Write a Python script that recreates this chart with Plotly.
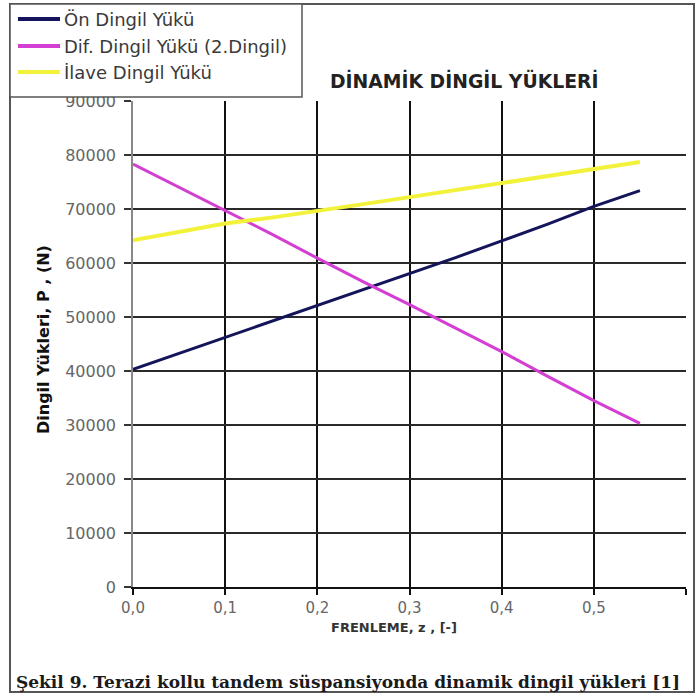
import plotly.graph_objects as go

# ---- data ----
frenleme = [0.00, 0.05, 0.10, 0.15, 0.20, 0.25, 0.30, 0.35, 0.40, 0.45, 0.50, 0.55]
on_dingil = [40300, 43250, 46200, 49150, 52100, 55050, 58000, 61000, 64100, 67200, 70500, 73400]
dif_dingil = [78300, 74000, 69800, 65400, 60900, 56500, 52300, 48000, 43600, 39000, 34500, 30300]
ilave_dingil = [64200, 65800, 67300, 68400, 69600, 70900, 72200, 73500, 74800, 76000, 77300, 78700]

series_names = ["Ön Dingil Yükü", "Dif. Dingil Yükü (2.Dingil)", "İlave Dingil Yükü"]
series_values = [on_dingil, dif_dingil, ilave_dingil]
series_colors = ["#14145a", "#d23fd2", "#f2f23a"]
series_widths = [3, 3, 4]

x_ticks = [0.0, 0.1, 0.2, 0.3, 0.4, 0.5, 0.6]
x_tick_labels = ["0,0", "0,1", "0,2", "0,3", "0,4", "0,5", "0,6"]
y_ticks = [0, 10000, 20000, 30000, 40000, 50000, 60000, 70000, 80000, 90000]

title_text = "DİNAMİK DİNGİL YÜKLERİ"
y_title = "Dingil Yükleri, P , (N)"
x_title = "FRENLEME, z , [-]"
caption = "Şekil 9. Terazi kollu tandem süspansiyonda dinamik dingil yükleri [1]"

# ---- layout geometry (pixels) ----
W, H = 696, 694
L, R, T, B = 133, 686, 101, 587
pw, ph = R - L, B - T


def px(x):
    return (x - L) / pw


def py(y):
    return (B - y) / ph


fig = go.Figure()
for name, vals, col, w in zip(series_names, series_values, series_colors, series_widths):
    fig.add_trace(go.Scatter(x=frenleme, y=vals, mode="lines", name=name,
                             line=dict(color=col, width=w), showlegend=False))

shapes = []
annotations = []

# outer frame
shapes.append(dict(type="rect", xref="paper", yref="paper",
                   x0=px(10), x1=px(694), y0=py(4), y1=py(692),
                   line=dict(color="#555555", width=2), fillcolor="rgba(0,0,0,0)",
                   layer="above"))

# legend box (covers top label, as in reference)
shapes.append(dict(type="rect", xref="paper", yref="paper",
                   x0=px(10), x1=px(302), y0=py(4), y1=py(97),
                   line=dict(color="#555555", width=1.5), fillcolor="white",
                   layer="above"))
leg_y = [19, 46, 72]
for i, (name, col) in enumerate(zip(series_names, series_colors)):
    shapes.append(dict(type="line", xref="paper", yref="paper",
                       x0=px(18), x1=px(60), y0=py(leg_y[i]), y1=py(leg_y[i]),
                       line=dict(color=col, width=4), layer="above"))
    annotations.append(dict(x=px(62), y=py(leg_y[i]), xref="paper", yref="paper",
                            text=name, showarrow=False, xanchor="left", yanchor="middle",
                            font=dict(family="DejaVu Sans", size=18, color="#3a3a3a")))

annotations.append(dict(x=px(464), y=py(80), xref="paper", yref="paper", text=f"<b>{title_text}</b>",
                        showarrow=False, xanchor="center", yanchor="middle",
                        font=dict(family="DejaVu Sans", size=18.8, color="#222222")))
annotations.append(dict(x=px(43), y=py(340), xref="paper", yref="paper", text=f"<b>{y_title}</b>",
                        showarrow=False, textangle=-90, xanchor="center", yanchor="middle",
                        font=dict(family="DejaVu Sans", size=16, color="#111111")))
annotations.append(dict(x=px(394), y=py(627), xref="paper", yref="paper", text=f"<b>{x_title}</b>",
                        showarrow=False, xanchor="center", yanchor="middle",
                        font=dict(family="DejaVu Sans", size=13, color="#333333")))
annotations.append(dict(x=px(14), y=py(682), xref="paper", yref="paper", text=f"<b>{caption}</b>",
                        showarrow=False, xanchor="left", yanchor="middle",
                        font=dict(family="DejaVu Serif", size=17, color="#1a1a1a")))

fig.update_layout(
    width=W, height=H,
    margin=dict(l=L, r=W - R, t=T, b=H - B, pad=0),
    paper_bgcolor="white", plot_bgcolor="white",
    shapes=shapes, annotations=annotations,
    showlegend=False,
)
fig.update_xaxes(range=[0, 0.6], tickvals=x_ticks, ticktext=x_tick_labels,
                 showgrid=True, gridcolor="#111111", gridwidth=2,
                 showline=True, linecolor="#111111", linewidth=2,
                 zeroline=False, ticks="outside", ticklen=6, tickcolor="#111111", tickwidth=2,
                 ticklabelstandoff=0,
                 tickfont=dict(family="DejaVu Sans", size=15, color="#666666"))
fig.update_yaxes(range=[0, 90000], tickvals=y_ticks, tickformat="d",
                 showgrid=True, gridcolor="#2a2a2a", gridwidth=2,
                 showline=True, linecolor="#888888", linewidth=1.5,
                 zeroline=False, ticks="outside", ticklen=7, tickcolor="#333333", tickwidth=1.5,
                 ticklabelstandoff=5,
                 tickfont=dict(family="DejaVu Sans", size=16, color="#666666"))

fig.write_html("out.html", config={"displayModeBar": False},
               post_script="document.body.style.margin='0';")
